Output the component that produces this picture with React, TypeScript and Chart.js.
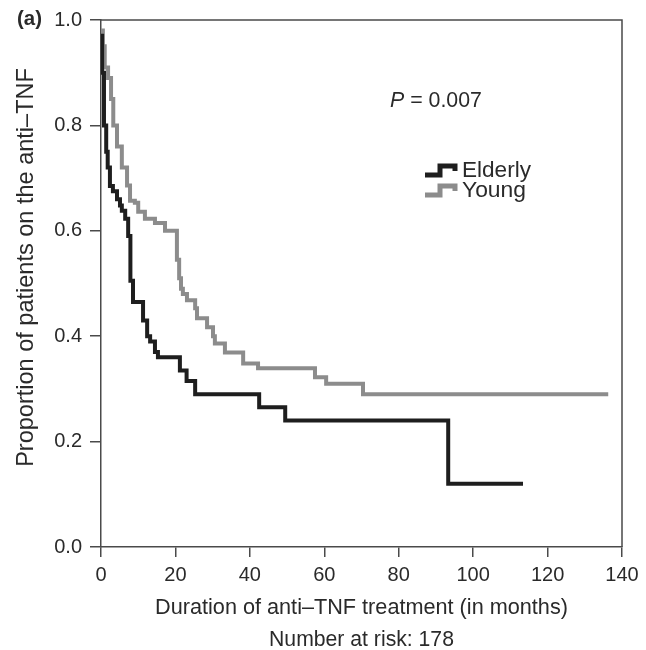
import { useEffect, useRef } from 'react';
import { Chart, registerables } from 'chart.js';

Chart.register(...registerables);

// ---- data ----
const elderlyMonths = [0, 0.3, 0.8, 1.4, 1.8, 2.4, 3.2, 4.3, 5.1, 5.6, 6.5, 7.3, 7.9, 8.6, 11.3, 12.4, 13.2, 14.5, 15.3, 21.2, 23.0, 25.3, 42.5, 49.5, 93.3, 113.4];
const elderlySurvival = [0.97, 0.9, 0.8, 0.75, 0.72, 0.685, 0.675, 0.66, 0.648, 0.638, 0.623, 0.59, 0.505, 0.465, 0.43, 0.4, 0.39, 0.37, 0.36, 0.335, 0.315, 0.29, 0.265, 0.24, 0.12, 0.12];

const youngMonths = [0, 0.5, 1.0, 1.9, 2.7, 3.3, 4.3, 5.6, 7.0, 7.8, 9.1, 10.0, 11.8, 14.5, 17.2, 20.4, 21.0, 21.5, 22.0, 23.1, 25.3, 25.8, 28.5, 30.1, 30.6, 33.3, 38.2, 42.2, 57.5, 60.5, 70.4, 136.3];
const youngSurvival = [0.98, 0.95, 0.91, 0.89, 0.85, 0.8, 0.76, 0.72, 0.686, 0.657, 0.653, 0.636, 0.623, 0.615, 0.6, 0.545, 0.51, 0.49, 0.48, 0.468, 0.453, 0.434, 0.417, 0.4, 0.386, 0.369, 0.348, 0.339, 0.322, 0.31, 0.29, 0.29];

const xTicks = [0, 20, 40, 60, 80, 100, 120, 140];
const yTicks = [0, 0.2, 0.4, 0.6, 0.8, 1.0];
const seriesNames = ['Elderly', 'Young'];
const seriesColors = ['#1e1e1e', '#8c8c8c'];

const panelLabel = '(a)';
const pLabel = 'P';
const pValue = ' = 0.007';
const xTitle = 'Duration of anti–TNF treatment (in months)';
const xSubtitle = 'Number at risk: 178';
const yTitle = 'Proportion of patients on the anti–TNF';

const FONT = "'Liberation Sans', Arial, Helvetica, sans-serif";
const AXIS = '#4a4a4a';
const TEXT = '#2a2a2a';

function fitFont(ctx: CanvasRenderingContext2D, text: string, width: number, style = '') {
  ctx.font = `${style} 100px ${FONT}`;
  const w = ctx.measureText(text).width;
  const size = (100 * width) / w;
  return `${style} ${size.toFixed(2)}px ${FONT}`;
}

const overlayPlugin = {
  id: 'overlay',
  afterDraw(chart: any) {
    const { ctx, chartArea: a } = chart;
    ctx.save();
    // frame (top + right)
    ctx.strokeStyle = AXIS;
    ctx.lineWidth = 1.5;
    ctx.beginPath();
    ctx.moveTo(a.left, a.top);
    ctx.lineTo(a.right, a.top);
    ctx.lineTo(a.right, a.bottom);
    ctx.stroke();

    ctx.fillStyle = TEXT;
    ctx.textAlign = 'left';
    ctx.textBaseline = 'middle';
    // panel label
    ctx.font = fitFont(ctx, panelLabel, 25, 'bold');
    ctx.fillText(panelLabel, 17, 19);

    // P value
    ctx.font = fitFont(ctx, pLabel + pValue, 92);
    const size = ctx.font;
    ctx.font = 'italic ' + size;
    ctx.fillText(pLabel, 390, 101);
    const pw = ctx.measureText(pLabel).width;
    ctx.font = size;
    ctx.fillText(pValue, 390 + pw, 101);

    // legend
    const legendY = [170, 190];
    const legendW = [69, 64];
    seriesNames.forEach((name, i) => {
      const y = legendY[i];
      ctx.strokeStyle = seriesColors[i];
      ctx.lineWidth = 5;
      ctx.lineJoin = 'miter';
      ctx.beginPath();
      ctx.moveTo(425, y + 5);
      ctx.lineTo(440, y + 5);
      ctx.lineTo(440, y - 4);
      ctx.lineTo(455, y - 4);
      ctx.lineTo(455, y + 1);
      ctx.stroke();
      ctx.fillStyle = TEXT;
      ctx.font = fitFont(ctx, name, legendW[i]);
      ctx.fillText(name, 462, y + 1);
    });

    // axis titles
    ctx.textAlign = 'center';
    const cx = (a.left + a.right) / 2;
    ctx.font = fitFont(ctx, xTitle, 413);
    ctx.fillText(xTitle, cx, 608);
    ctx.font = fitFont(ctx, xSubtitle, 185);
    ctx.fillText(xSubtitle, cx, 640);

    ctx.translate(27, 267.5);
    ctx.rotate(-Math.PI / 2);
    ctx.font = fitFont(ctx, yTitle, 399);
    ctx.fillText(yTitle, 0, 0);
    ctx.restore();
  },
};

export default function App() {
  const canvasRef = useRef<HTMLCanvasElement | null>(null);

  useEffect(() => {
    const canvas = canvasRef.current;
    if (!canvas) return;
    const chart = new Chart(canvas, {
      type: 'line',
      data: {
        datasets: [
          {
            label: seriesNames[0],
            data: elderlyMonths.map((m, i) => ({ x: m, y: elderlySurvival[i] })),
            borderColor: seriesColors[0],
            borderWidth: 4,
            stepped: 'before',
            pointRadius: 0,
            fill: false,
            borderCapStyle: 'butt',
            borderJoinStyle: 'miter',
          },
          {
            label: seriesNames[1],
            data: youngMonths.map((m, i) => ({ x: m, y: youngSurvival[i] })),
            borderColor: seriesColors[1],
            borderWidth: 4,
            stepped: 'before',
            pointRadius: 0,
            fill: false,
            borderCapStyle: 'butt',
            borderJoinStyle: 'miter',
          },
        ],
      },
      options: {
        responsive: false,
        animation: false,
        layout: { padding: { top: 19, right: 24, left: 0, bottom: 0 } },
        plugins: {
          legend: { display: false },
          tooltip: { enabled: false },
        },
        scales: {
          x: {
            type: 'linear',
            min: 0,
            max: 140,
            afterBuildTicks: (s: any) => {
              s.ticks = xTicks.map((v) => ({ value: v }));
            },
            afterFit: (s: any) => {
              s.height = 103;
            },
            ticks: {
              font: { family: FONT, size: 20 },
              color: TEXT,
              padding: 6,
              maxRotation: 0,
              callback: (v: any) => String(v),
            },
            grid: { drawOnChartArea: false, drawTicks: true, tickLength: 10, color: AXIS, lineWidth: 1.5 },
            border: { display: true, color: AXIS, width: 1.5 },
          },
          y: {
            type: 'linear',
            min: 0,
            max: 1,
            afterBuildTicks: (s: any) => {
              s.ticks = yTicks.map((v) => ({ value: v }));
            },
            afterFit: (s: any) => {
              s.width = 101;
            },
            ticks: {
              font: { family: FONT, size: 20 },
              color: TEXT,
              padding: 8,
              callback: (v: any) => Number(v).toFixed(1),
            },
            grid: { drawOnChartArea: false, drawTicks: true, tickLength: 11, color: AXIS, lineWidth: 1.5 },
            border: { display: true, color: AXIS, width: 1.5 },
          },
        },
      },
      plugins: [overlayPlugin],
    } as any);
    return () => chart.destroy();
  }, []);

  return (
    <div style={{ position: 'absolute', left: 0, top: 0, width: 646, height: 650, background: '#fff' }}>
      <canvas ref={canvasRef} width={646} height={650} />
    </div>
  );
}
